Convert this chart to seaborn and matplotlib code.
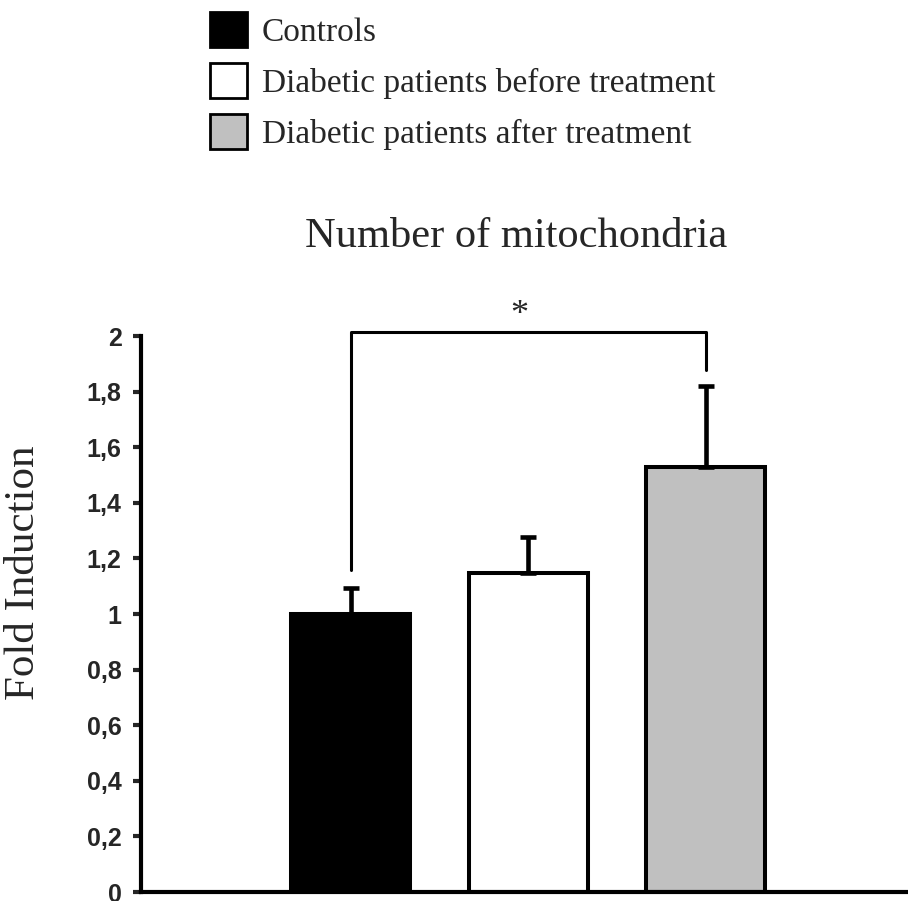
import numpy as np
import pandas as pd
import matplotlib
matplotlib.use("Agg")
import matplotlib.pyplot as plt
import seaborn as sns
from matplotlib.patches import Patch

# data
groups = ["Controls", "Diabetic patients before treatment", "Diabetic patients after treatment"]
fold = [1.0, 1.147, 1.529]
err_up = [0.094, 0.13, 0.29]
colors = ["#000000", "#ffffff", "#c0c0c0"]
ytick_vals = [0, 0.2, 0.4, 0.6, 0.8, 1.0, 1.2, 1.4, 1.6, 1.8, 2.0]
ytick_labels = ["0", "0,2", "0,4", "0,6", "0,8", "1", "1,2", "1,4", "1,6", "1,8", "2"]
bracket_y = [1.158, 2.014, 2.014, 1.878]

df = pd.DataFrame({"group": groups, "fold": fold})

sns.set_style("white")
plt.rcParams["font.family"] = ["Liberation Serif", "DejaVu Serif"]

fig = plt.figure(figsize=(9.08, 9.01), dpi=100)
ax = fig.add_axes([141 / 908, 9 / 901, 1 - 141 / 908, 556 / 901])

sns.barplot(data=df, x="group", y="fold", hue="group", palette=colors,
            order=groups, hue_order=groups, dodge=False, width=0.67,
            edgecolor="black", linewidth=2.9, errorbar=None, legend=False, ax=ax)

ax.errorbar(np.arange(len(groups)), fold, yerr=[np.zeros(len(groups)), err_up],
            fmt="none", ecolor="black", elinewidth=3.3, capsize=5.5, capthick=3.3, zorder=1)

ax.set_xlim(-1.18, 3.14)
ax.set_ylim(0, 2.0)
ax.set_yticks(ytick_vals)
ax.set_yticklabels(ytick_labels, fontfamily="Liberation Sans", fontweight="bold", fontsize=18)
ax.set_xticks([])
ax.set_xlabel("")
ax.set_ylabel("Fold Induction", fontsize=31)
ax.yaxis.set_label_coords(-98 / 767, 0.574)
ax.tick_params(axis="y", direction="out", length=6, width=3, pad=8, left=True)

for s in ["top", "right"]:
    ax.spines[s].set_visible(False)
for s in ["left", "bottom"]:
    ax.spines[s].set_linewidth(3)
    ax.spines[s].set_color("black")

# significance bracket
ax.plot([0, 0, 2, 2], bracket_y, color="black", lw=2.2, clip_on=False)
ax.text(0.95, 2.015, "*", ha="center", va="bottom", fontsize=26, clip_on=False)

fig.text(516 / 908, (901 - 247) / 901, "Number of mitochondria", ha="center",
         va="baseline", fontsize=30.6)

handles = [Patch(facecolor=c, edgecolor="black", linewidth=2) for c in colors]
fig.legend(handles, groups, loc="upper left", bbox_to_anchor=(210 / 908, 1 - 12 / 901),
           frameon=False, fontsize=24, handlelength=1.1, handleheight=1.25,
           handletextpad=0.45, labelspacing=0.45, borderaxespad=0, borderpad=0)

fig.savefig("out.png", dpi=100)
